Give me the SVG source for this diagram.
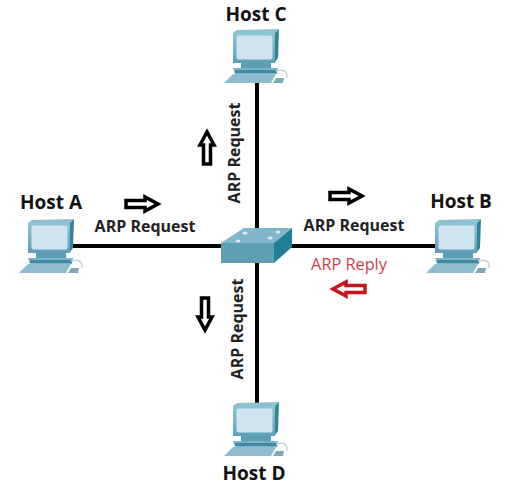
<svg xmlns="http://www.w3.org/2000/svg" width="508" height="497" viewBox="0 0 508 497">
<style>
.t{font-family:"Open Sans","Liberation Sans",sans-serif;font-weight:700;fill:#111}
.h{font-size:19px;text-anchor:middle}
.l{font-size:16px;text-anchor:middle;fill:#222}
.w{stroke:#000;stroke-width:4;fill:none}
.a{fill:#fff;stroke:#000;stroke-width:3.500;stroke-linejoin:miter}
.r{fill:#fff;stroke:#c8141e;stroke-width:3.500;stroke-linejoin:miter}
</style>
<defs>
<linearGradient id="g" x1="0" y1="0" x2="0" y2="1"><stop offset="0" stop-color="#8fc3d6"/><stop offset="1" stop-color="#5f9fb8"/></linearGradient>
<g id="pc">
<path d="M1 3L5 0L47-1L43 3Z" fill="#8fc0d2"/>
<path d="M43 3L47-1L46 28L43 32Z" fill="#2f8499"/>
<rect x="1" y="3" width="42" height="30" fill="url(#g)"/>
<rect x="4.500" y="5.500" width="36" height="24" rx="2" fill="#cfe4ee"/>
<path d="M9 33H39V38H9Z" fill="#5c9db4"/>
<path d="M1 38H46L45 44H3Z" fill="#7db4c7"/>
<path d="M3 40H45V43H3Z" fill="#3f8aa2"/>
<path d="M1 44H44L39 53H-8Z" fill="#8fbdcd"/>
<path d="M41 53L44 48H52L51 53Z" fill="#7fa9b8"/>
<path d="M44 41Q56 38 55 48" fill="none" stroke="#c4d5dc" stroke-width="1.500"/>
</g>
<path id="ar" d="M2-3.500H21V-7L34 0L21 7V3.500H2Z"/>
</defs>
<g id="connectors">
<path class="w" d="M257 80V405M70 246H436"/>
</g>
<g id="switch">
<path d="M221 243L244 228H292L274 243Z" fill="#7fb6c9"/>
<path d="M221 243H274V263H221Z" fill="#5f9fb6"/>
<path d="M274 243L292 228V247L274 263Z" fill="#1f7f98"/>
<g fill="#dcecf2"><ellipse cx="245" cy="233" rx="2.500" ry="1.500"/><ellipse cx="278" cy="232" rx="2.500" ry="1.500"/><ellipse cx="238" cy="241" rx="2.500" ry="1.500"/><ellipse cx="270" cy="238" rx="2.500" ry="1.500"/></g>
</g>
<g id="host-a"><use href="#pc" x="27" y="220"/><text class="t h" x="51" y="209">Host A</text></g>
<g id="host-b"><use href="#pc" x="434" y="220"/><text class="t h" x="461" y="208">Host B</text></g>
<g id="host-c"><use href="#pc" x="232" y="30"/><text class="t h" x="256" y="20.500">Host C</text></g>
<g id="host-d"><use href="#pc" x="232" y="403"/><text class="t h" x="254" y="480">Host D</text></g>
<g id="labels">
<text class="t l" x="145" y="232">ARP Request</text>
<text class="t l" x="354" y="231">ARP Request</text>
<text class="t l" transform="translate(240 153) rotate(-90)">ARP Request</text>
<text class="t l" transform="translate(243 329) rotate(-90)">ARP Request</text>
<text x="349" y="270" font-family="Open Sans,Liberation Sans,sans-serif" font-size="16.300" text-anchor="middle" fill="#d0404a">ARP Reply</text>
</g>
<g id="arrows">
<use href="#ar" class="a" transform="translate(124 204)"/>
<use href="#ar" class="a" transform="translate(328 196)"/>
<use href="#ar" class="a" transform="translate(207 166) rotate(-90)"/>
<use href="#ar" class="a" transform="translate(205 296) rotate(90)"/>
<use href="#ar" class="r" transform="translate(367 289) rotate(180)"/>
</g>
</svg>
